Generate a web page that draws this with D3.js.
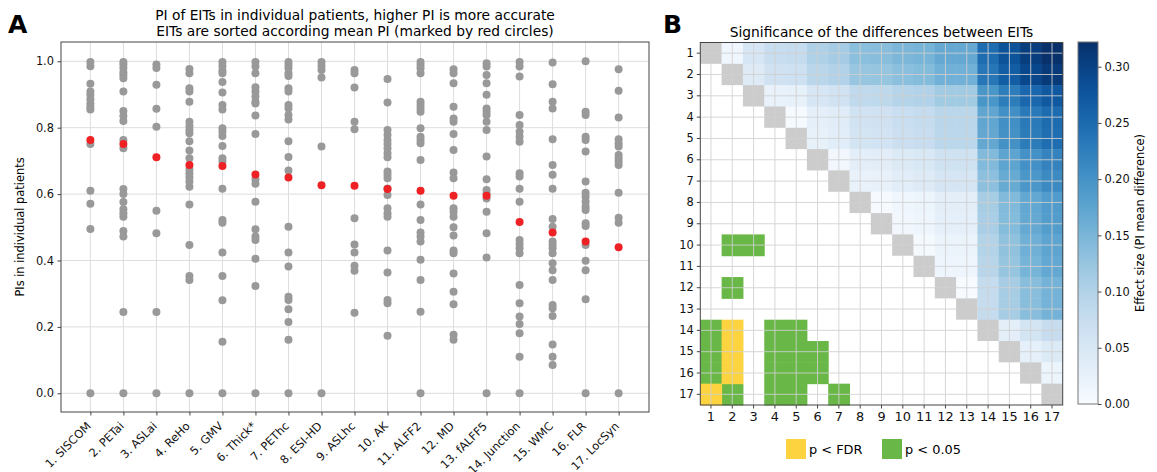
<!DOCTYPE html>
<html>
<head>
<meta charset="utf-8">
<script src="https://cdn.jsdelivr.net/npm/d3@7"></script>
<style>
  body { margin: 0; background: #fff; }
  svg { font-family: "DejaVu Sans", sans-serif; }
</style>
</head>
<body>
<div id="chart"></div>
<script>
// EIT names, sorted by mean PI
const eits = ["1. SISCOM", "2. PETai", "3. ASLai", "4. ReHo", "5. GMV", "6. Thick*", "7. PEThc",
  "8. ESI-HD", "9. ASLhc", "10. AK", "11. ALFF2", "12. MD", "13. fALFF5", "14. Junction",
  "15. WMC", "16. FLR", "17. LocSyn"]

// PI per patient, one list per EIT
const patientPIs = [
  [0.998, 0.985, 0.932, 0.909, 0.899, 0.886, 0.873, 0.863, 0.855, 0.751, 0.61, 0.571, 0.495, 0.0],
  [0.998, 0.99, 0.98, 0.967, 0.959, 0.949, 0.909, 0.85, 0.835, 0.82, 0.763, 0.738, 0.615, 0.6, 0.576, 0.554, 0.542, 0.532, 0.489, 0.472, 0.245, 0.0],
  [0.99, 0.98, 0.929, 0.857, 0.803, 0.55, 0.482, 0.245, 0.0],
  [0.977, 0.964, 0.919, 0.909, 0.878, 0.818, 0.805, 0.793, 0.783, 0.759, 0.731, 0.708, 0.675, 0.663, 0.651, 0.638, 0.622, 0.569, 0.447, 0.353, 0.341, 0.0],
  [0.998, 0.986, 0.972, 0.964, 0.938, 0.906, 0.868, 0.855, 0.798, 0.788, 0.775, 0.745, 0.708, 0.698, 0.616, 0.522, 0.514, 0.424, 0.353, 0.28, 0.155, 0.0],
  [0.998, 0.984, 0.964, 0.922, 0.909, 0.894, 0.878, 0.873, 0.837, 0.781, 0.645, 0.631, 0.577, 0.494, 0.472, 0.462, 0.405, 0.323, 0.0],
  [0.998, 0.989, 0.979, 0.964, 0.956, 0.919, 0.909, 0.868, 0.858, 0.838, 0.825, 0.759, 0.712, 0.671, 0.502, 0.424, 0.382, 0.291, 0.281, 0.253, 0.215, 0.161, 0.0],
  [0.998, 0.986, 0.974, 0.951, 0.743, 0.0],
  [0.974, 0.964, 0.921, 0.818, 0.795, 0.527, 0.448, 0.424, 0.384, 0.369, 0.243],
  [0.947, 0.876, 0.793, 0.778, 0.763, 0.751, 0.738, 0.723, 0.711, 0.668, 0.658, 0.648, 0.617, 0.597, 0.557, 0.542, 0.532, 0.43, 0.364, 0.281, 0.271, 0.173],
  [0.998, 0.989, 0.979, 0.964, 0.878, 0.868, 0.858, 0.848, 0.798, 0.773, 0.763, 0.753, 0.703, 0.569, 0.522, 0.484, 0.472, 0.457, 0.402, 0.341, 0.246, 0.0],
  [0.976, 0.964, 0.934, 0.863, 0.828, 0.818, 0.781, 0.733, 0.665, 0.648, 0.557, 0.547, 0.532, 0.5, 0.475, 0.43, 0.422, 0.361, 0.306, 0.268, 0.176, 0.161],
  [0.994, 0.984, 0.959, 0.934, 0.899, 0.858, 0.848, 0.838, 0.818, 0.793, 0.713, 0.645, 0.612, 0.602, 0.587, 0.547, 0.482, 0.409, 0.0],
  [0.998, 0.984, 0.954, 0.838, 0.808, 0.788, 0.773, 0.758, 0.663, 0.653, 0.616, 0.577, 0.462, 0.45, 0.437, 0.422, 0.326, 0.271, 0.231, 0.209, 0.181, 0.11, 0.0],
  [0.996, 0.931, 0.878, 0.858, 0.765, 0.688, 0.658, 0.616, 0.525, 0.502, 0.457, 0.447, 0.437, 0.422, 0.392, 0.371, 0.341, 0.266, 0.256, 0.233, 0.147, 0.11, 0.085],
  [1.0, 0.848, 0.838, 0.773, 0.763, 0.728, 0.638, 0.604, 0.592, 0.577, 0.562, 0.552, 0.512, 0.504, 0.447, 0.399, 0.371, 0.283, 0.0],
  [0.976, 0.911, 0.831, 0.765, 0.753, 0.743, 0.718, 0.708, 0.698, 0.688, 0.604, 0.529, 0.514, 0.0]
]

// mean PI per EIT (red circles)
const meanPI = [0.763, 0.751, 0.711, 0.688, 0.685, 0.659, 0.65, 0.627, 0.625, 0.615, 0.61, 0.595, 0.595, 0.516, 0.484, 0.457, 0.44]

// lower triangle: significant pairs [row, col], 1-based
const sigFDR = [[14, 2], [15, 2], [16, 2], [17, 1]]
const sig05 = [[10, 2], [10, 3], [12, 2], [14, 1], [14, 4], [14, 5], [15, 1], [15, 4], [15, 5], [15, 6],
  [16, 1], [16, 4], [16, 5], [16, 6], [17, 2], [17, 4], [17, 5], [17, 7]]

const yTicks = [0.0, 0.2, 0.4, 0.6, 0.8, 1.0]
const cbarTicks = [0.00, 0.05, 0.10, 0.15, 0.20, 0.25, 0.30]
const effectMax = 0.322

const colors = { dot: "#999999", mean: "#ee2124", grid: "#dddddd", fdr: "#fdd43f", p05: "#69b847", diag: "#cccccc", spine: "#444" }
const fs = { title: "13.8px", tick: "11.4px", heat: "12.9px" }

const svg = d3.select("#chart").append("svg").attr("width", 1157).attr("height", 472)

drawPanelA()
drawPanelB()

function drawPanelA() {
  const left = 61, right = 649, top = 42, bottom = 412
  const x = d3.scaleLinear().domain([0.11, 17.92]).range([left, right])
  const y = d3.scaleLinear().domain([-0.0563, 1.0581]).range([bottom, top])
  const g = svg.append("g")

  svg.append("text").attr("x", 8).attr("y", 33).text("A")
    .style("font-size", "25px").style("font-weight", "bold")
  const title = svg.append("text").attr("text-anchor", "middle").style("font-size", fs.title)
  title.append("tspan").attr("x", (left + right) / 2).attr("y", 20)
    .text("PI of EITs in individual patients, higher PI is more accurate")
  title.append("tspan").attr("x", (left + right) / 2).attr("y", 36)
    .text("EITs are sorted according mean PI (marked by red circles)")

  // grid
  g.append("g").selectAll("line").data(eits).join("line")
    .attr("x1", (d, i) => x(i + 1)).attr("x2", (d, i) => x(i + 1))
    .attr("y1", top).attr("y2", bottom)
    .attr("stroke", colors.grid).attr("stroke-width", 1)
  g.append("g").selectAll("line").data(yTicks).join("line")
    .attr("x1", left).attr("x2", right)
    .attr("y1", d => y(d)).attr("y2", d => y(d))
    .attr("stroke", colors.grid).attr("stroke-width", 1)

  // patients
  const pts = patientPIs.flatMap((vals, i) => vals.map(v => ({ col: i + 1, v })))
  g.append("g").selectAll("circle").data(pts).join("circle")
    .attr("cx", d => x(d.col)).attr("cy", d => y(d.v)).attr("r", 4)
    .attr("fill", colors.dot)
  g.append("g").selectAll("circle").data(meanPI).join("circle")
    .attr("cx", (d, i) => x(i + 1)).attr("cy", d => y(d)).attr("r", 4)
    .attr("fill", colors.mean)

  // axes
  const yAxis = g.append("g").attr("transform", `translate(${left},0)`)
    .call(d3.axisLeft(y).tickValues(yTicks).tickFormat(d3.format(".1f")).tickSize(3.5).tickPadding(3.5))
  const xAxis = g.append("g").attr("transform", `translate(0,${bottom})`)
    .call(d3.axisBottom(x).tickValues(d3.range(1, 18)).tickFormat(d => eits[d - 1]).tickSize(3.5))
  xAxis.selectAll("text")
    .attr("x", 0).attr("y", 0).attr("dy", "0.35em")
    .attr("text-anchor", "end")
    .attr("transform", "translate(-2,12) rotate(-45)")
  for (const ax of [xAxis, yAxis]) {
    ax.select(".domain").remove()
    ax.selectAll("line").attr("stroke", colors.spine)
    ax.selectAll("text").style("font-size", fs.tick).attr("fill", "#111").style("font-family", "DejaVu Sans")
  }
  g.append("rect").attr("x", left).attr("y", top).attr("width", right - left).attr("height", bottom - top)
    .attr("fill", "none").attr("stroke", colors.spine).attr("stroke-width", 1)

  svg.append("text").attr("transform", `translate(24,${(top + bottom) / 2}) rotate(-90)`)
    .attr("text-anchor", "middle").style("font-size", fs.tick).text("PIs in individual patients")
}

function drawPanelB() {
  const left = 700.3, right = 1062.7, top = 42.5, bottom = 405
  const ids = d3.range(1, 18)
  const x = d3.scaleBand().domain(ids).range([left, right])
  const y = d3.scaleBand().domain(ids).range([top, bottom])
  const color = v => d3.interpolateBlues(Math.min(1, v / effectMax))
  const g = svg.append("g")

  svg.append("text").attr("x", 663).attr("y", 33).text("B")
    .style("font-size", "25px").style("font-weight", "bold")
  svg.append("text").attr("x", (left + right) / 2).attr("y", 37).attr("text-anchor", "middle")
    .style("font-size", fs.title).text("Significance of the differences between EITs")

  // upper triangle: effect size = |mean difference|
  const upper = []
  ids.forEach(r => ids.forEach(c => { if (c > r) upper.push({ r, c, v: Math.abs(meanPI[r - 1] - meanPI[c - 1]) }) }))
  g.append("g").selectAll("rect").data(upper).join("rect")
    .attr("x", d => x(d.c)).attr("y", d => y(d.r))
    .attr("width", x.bandwidth() + 0.5).attr("height", y.bandwidth() + 0.5)
    .attr("fill", d => color(d.v))

  // diagonal
  g.append("g").selectAll("rect").data(ids).join("rect")
    .attr("x", d => x(d)).attr("y", d => y(d))
    .attr("width", x.bandwidth()).attr("height", y.bandwidth())
    .attr("fill", colors.diag)

  // significance
  const sig = sig05.map(([r, c]) => ({ r, c, fill: colors.p05 }))
    .concat(sigFDR.map(([r, c]) => ({ r, c, fill: colors.fdr })))
  g.append("g").selectAll("rect").data(sig).join("rect")
    .attr("x", d => x(d.c)).attr("y", d => y(d.r))
    .attr("width", x.bandwidth() + 0.5).attr("height", y.bandwidth() + 0.5)
    .attr("fill", d => d.fill)

  // grid on top
  const mid = d => x(d) + x.bandwidth() / 2
  const midY = d => y(d) + y.bandwidth() / 2
  g.append("g").selectAll("line").data(ids).join("line")
    .attr("x1", mid).attr("x2", mid).attr("y1", top).attr("y2", bottom)
    .attr("stroke", "#d0d0d0").attr("stroke-opacity", 0.85)
  g.append("g").selectAll("line").data(ids).join("line")
    .attr("y1", midY).attr("y2", midY).attr("x1", left).attr("x2", right)
    .attr("stroke", "#d0d0d0").attr("stroke-opacity", 0.85)

  const xAxis = g.append("g").attr("transform", `translate(0,${bottom})`)
    .call(d3.axisBottom(x).tickSize(3.5).tickPadding(3))
  const yAxis = g.append("g").attr("transform", `translate(${left},0)`)
    .call(d3.axisLeft(y).tickSize(3.5).tickPadding(3))
  for (const ax of [xAxis, yAxis]) {
    ax.select(".domain").remove()
    ax.selectAll("line").attr("stroke", colors.spine)
    ax.selectAll("text").style("font-size", fs.heat).attr("fill", "#111").style("font-family", "DejaVu Sans")
  }
  yAxis.selectAll("text").style("font-size", fs.tick)
  g.append("rect").attr("x", left).attr("y", top).attr("width", right - left).attr("height", bottom - top)
    .attr("fill", "none").attr("stroke", colors.spine).attr("stroke-width", 1)

  // colorbar
  const cbX = 1078, cbW = 20, cbTop = 42, cbBottom = 404
  const cy = d3.scaleLinear().domain([0, effectMax]).range([cbBottom, cbTop])
  const grad = svg.append("defs").append("linearGradient").attr("id", "cbar")
    .attr("x1", 0).attr("y1", 1).attr("x2", 0).attr("y2", 0)
  d3.range(0, 1.0001, 0.05).forEach(t => {
    grad.append("stop").attr("offset", t).attr("stop-color", d3.interpolateBlues(t))
  })
  svg.append("rect").attr("x", cbX).attr("y", cbTop).attr("width", cbW).attr("height", cbBottom - cbTop)
    .attr("fill", "url(#cbar)").attr("stroke", "#777").attr("stroke-width", 1)
  const cbAxis = svg.append("g").attr("transform", `translate(${cbX + cbW},0)`)
    .call(d3.axisRight(cy).tickValues(cbarTicks).tickFormat(d3.format(".2f")).tickSize(3.5).tickPadding(3))
  cbAxis.select(".domain").remove()
  cbAxis.selectAll("line").attr("stroke", colors.spine)
  cbAxis.selectAll("text").style("font-size", fs.tick).attr("fill", "#111").style("font-family", "DejaVu Sans")
  svg.append("text").attr("transform", `translate(1144,${(cbTop + cbBottom) / 2}) rotate(-90)`)
    .attr("text-anchor", "middle").style("font-size", fs.tick).text("Effect size (PI mean difference)")

  // legend
  const legend = [{ label: "p < FDR", fill: colors.fdr, x: 786 }, { label: "p < 0.05", fill: colors.p05, x: 882 }]
  const lg = svg.append("g").selectAll("g").data(legend).join("g")
    .attr("transform", d => `translate(${d.x},439)`)
  lg.append("rect").attr("width", 20).attr("height", 20).attr("fill", d => d.fill)
  lg.append("text").attr("x", 23).attr("y", 15).style("font-size", fs.heat).text(d => d.label)
}
</script>
</body>
</html>
